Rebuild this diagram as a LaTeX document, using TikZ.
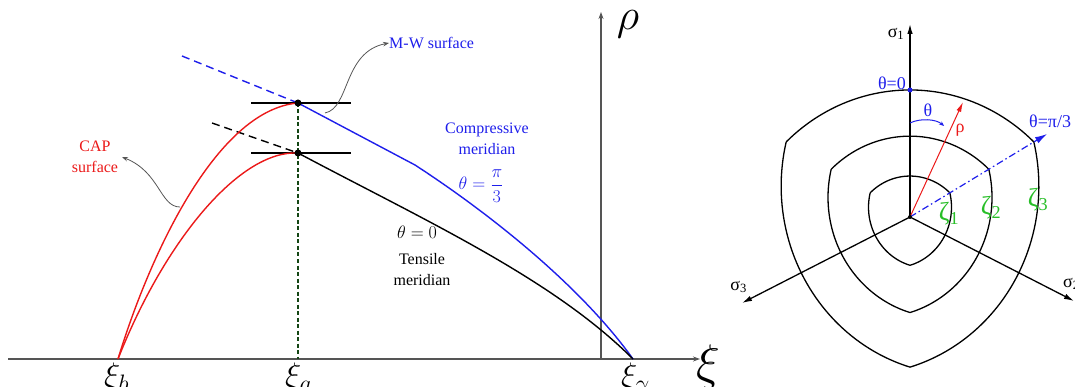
\RequirePackage{fix-cm}
\documentclass[tikz,border=0pt]{standalone}
\usepackage{fontspec}
\setmainfont{Liberation Serif}
\usetikzlibrary{arrows.meta,calc}
\definecolor{myblue}{RGB}{30,30,235}
\definecolor{myred}{RGB}{235,25,25}
\definecolor{mygreen}{RGB}{40,190,40}
\definecolor{dgreen}{RGB}{20,70,20}
\definecolor{axgray}{RGB}{85,85,85}
\begin{document}
\begin{tikzpicture}[x=1pt,y=-1pt,
  ax/.style={axgray, line width=1.1pt, -{Stealth[length=7pt,width=5pt]}},
  crv/.style={line width=1.4pt},
  pt/.style={circle, fill=black, inner sep=0pt, minimum size=7pt},
  txt/.style={font=\fontsize{16}{21}\selectfont, align=center, inner sep=0pt},
  mth/.style={font=\fontsize{18}{21}\selectfont, inner sep=0pt},
  bigxi/.style={font=\fontsize{34}{40}\selectfont, inner sep=0pt, anchor=base west},
  pointer/.style={axgray, line width=0.8pt, -{Stealth[length=6pt,width=4.5pt]}},
  saxis/.style={black, line width=1.3pt, -{Latex[length=10pt,width=5.5pt]}},
  devcurve/.style={black, line width=1.3pt},
  rlbl/.style={font=\fontsize{18}{21}\selectfont, inner sep=0pt},
  zlbl/.style={mygreen, font=\fontsize{26}{28}\selectfont, inner sep=0pt}]
\useasboundingbox (0,0) rectangle (1075,387);

% ---------------- left panel ----------------
\coordinate (L) at (8,359);
\coordinate (R) at (700,359);
\coordinate (B) at (601,359);
\coordinate (T) at (601,12);
\coordinate (xb) at (118,359);
\coordinate (xa) at (298,359);
\coordinate (xg) at (633,359);
\coordinate (bd) at (182,56);
\coordinate (kd) at (212,123);
\coordinate (h1l) at (251,103);
\coordinate (h1r) at (351,103);
\coordinate (h2l) at (251,153);
\coordinate (h2r) at (351,153);
\coordinate (kink) at (415,165);

\draw[ax] (L) -- (R);
\draw[ax] (B) -- (T);

\draw[dgreen, line width=1.2pt, dash pattern=on 4pt off 2.5pt] (298,103) -- (xa);
\draw[myblue, crv, dash pattern=on 8pt off 5pt] (bd) -- (298,103);
\draw[black, crv, dash pattern=on 8pt off 5pt] (kd) -- (298,153);
\draw[black, line width=1.3pt] (h1l) -- (h1r);
\draw[black, line width=1.3pt] (h2l) -- (h2r);

% meridians
\draw[myblue, crv] (298,103) -- (kink) .. controls (495,217) and (583,289) .. (xg);
\draw[black, crv] (298,153) .. controls (428,222) and (553,279) .. (xg);

% cap curves
\draw[myred, crv] (xb) .. controls (148,260) and (215,110) .. (298,103);
\draw[myred, crv] (xb) .. controls (165,240) and (240,150) .. (298,153);

\node[pt] (P) at (298,103) {};
\node[pt] (Q) at (298,153) {};

% labels
\node[txt, myred] (cap) at (95,157) {CAP\\surface};
\coordinate (capS) at (180,207);
\coordinate (capE) at (122,157);
\draw[pointer] (capS) .. controls (160,207) and (160,172) .. (capE);
\node[txt, myblue, anchor=west] (mw) at (389,43) {M-W surface};
\coordinate (mwS) at (325,113);
\draw[pointer] (mwS) .. controls (350,108) and (343,52) .. (mw.west);
\node[txt, myblue] (comp) at (487,139) {Compressive\\meridian};
\node[mth, myblue] (th3) at (481,186) {$\theta=\displaystyle\frac{\pi}{3}$};
\node[mth] (th0) at (417,232) {$\theta=0$};
\node[txt] (tens) at (422,270) {Tensile\\meridian};

\node[font=\fontsize{44}{48}\selectfont, inner sep=0pt] (rho) at (628,24) {$\rho$};
\node[font=\fontsize{50}{54}\selectfont, inner sep=0pt, anchor=base west] (xi) at (696,379) {$\xi$};
\node[bigxi] (lxb) at (104,386) {$\xi_b$};
\node[bigxi] (lxa) at (285,386) {$\xi_a$};
\node[bigxi] (lxg) at (621,386) {$\xi_\gamma$};

% ---------------- right panel ----------------
\begin{scope}[shift={(910,217)}, yscale=-1]
  \coordinate (O) at (0,0);
  \foreach \rt/\rc in {121/143, 77/91, 39/46} {
    \pgfmathsetmacro\myH{\rc*sin(60)/10}
    \pgfmathsetmacro\myS{(\rt-\rc/2)/10}
    \pgfmathsetmacro\myR{(\myH*\myH+\myS*\myS)/(2*\myS)}
    \pgfmathsetmacro\myA{asin(\myH/\myR)}
    \foreach \ph in {0,120,240} {
      \draw[devcurve, yscale=1.05, rotate=\ph] plot[domain=90-\myA:90+\myA, samples=50]
        ({10*\myR*cos(\x)}, {\rt-10*\myR+10*\myR*sin(\x)});
    }
  }
  \coordinate (s1) at (0,193);
  \coordinate (s2) at (164,-84);
  \coordinate (s3) at (-168,-86);
  \draw[saxis] (O) -- (s1);
  \draw[saxis] (O) -- (s2);
  \draw[saxis] (O) -- (s3);
  \coordinate (rhoT) at (53,115);
  \coordinate (tpT) at (137,83);
  \draw[myred, line width=1pt, -{Latex[length=10pt,width=5pt]}] (O) -- (rhoT);
  \draw[myblue, line width=1.2pt, dash pattern=on 7pt off 3pt on 1.5pt off 3pt, -{Latex[length=12pt,width=7pt]}] (O) -- (tpT);
  \coordinate (a0) at (0,94);
  \coordinate (a1) at (34,91);
  \draw[myblue, line width=1pt, -{Stealth[length=5pt,width=4pt]}] (a0) .. controls (10,99) and (26,98) .. (a1);
  \fill[myblue] (0,127) circle (2.5pt);
  \fill[black] (O) circle (2pt);
\end{scope}

\node[rlbl] (ls1) at (896,34) {σ\textsubscript{1}};
\node[rlbl, anchor=west] (ls2) at (1063,284) {σ\textsubscript{2}};
\node[rlbl, anchor=east] (ls3) at (747,287) {σ\textsubscript{3}};
\node[rlbl, myblue, anchor=east] (lth0) at (906,83) {θ=0};
\node[rlbl, myblue] (lth) at (928,110) {θ};
\node[rlbl, myred] (lrho) at (960,130) {ρ};
\node[rlbl, myblue, anchor=west] (lth3) at (1029,121) {θ=π/3};
\node[zlbl] (z1) at (949,214) {ζ\textsubscript{1}};
\node[zlbl] (z2) at (991,208) {ζ\textsubscript{2}};
\node[zlbl] (z3) at (1038,200) {ζ\textsubscript{3}};
\end{tikzpicture}
\end{document}
